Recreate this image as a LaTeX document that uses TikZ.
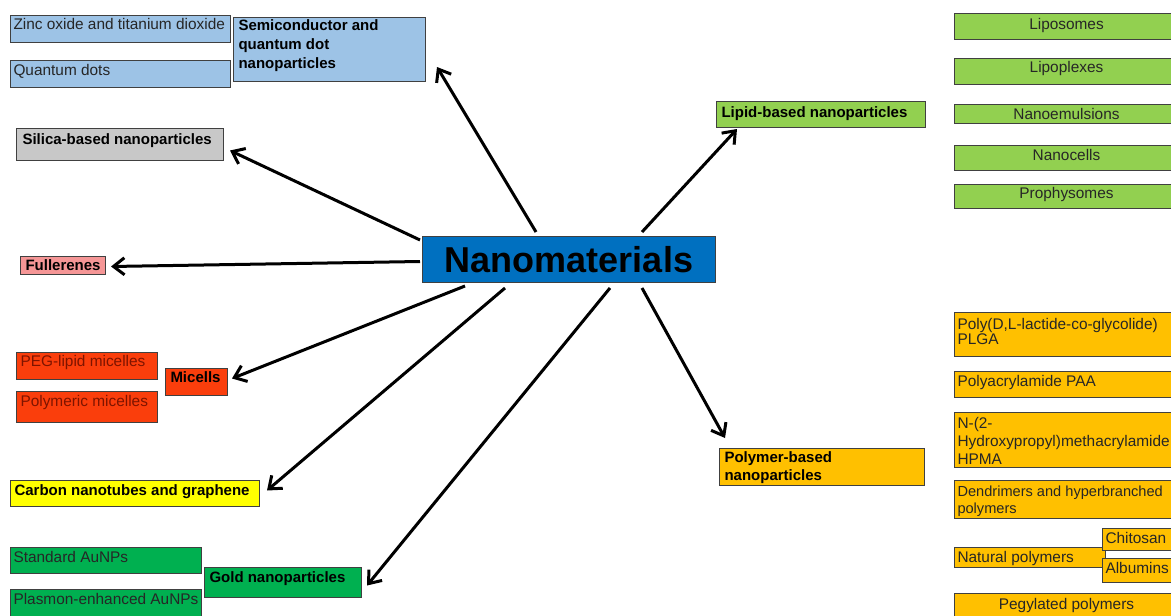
\documentclass[tikz,border=0pt]{standalone}
\usepackage{fontspec}
\setmainfont{Liberation Sans}
\usetikzlibrary{arrows.meta}
\definecolor{cblue}{RGB}{157,195,230}
\definecolor{cgray}{RGB}{200,200,200}
\definecolor{cpink}{RGB}{245,150,150}
\definecolor{cred}{RGB}{250,62,12}
\definecolor{cyellow}{RGB}{255,255,0}
\definecolor{cgreen}{RGB}{0,176,80}
\definecolor{cnano}{RGB}{0,112,192}
\definecolor{clgreen}{RGB}{146,208,80}
\definecolor{corange}{RGB}{255,192,0}
\definecolor{cborder}{RGB}{64,64,64}
\definecolor{cdarkred}{RGB}{125,20,0}
\newcommand\padl{3pt}
\newcommand\fsz{15.4}
\newcommand\cellbox[9]{\node[bx,#1] (#2) at (#3,#4) {\parbox[c][#6pt][t]{#5pt}{\fontsize{\fsz}{#8}\selectfont\raggedright\leftskip=\padl\relax\vspace*{#7pt}\rule{0pt}{11pt}#9}};}
\tikzset{
  bx/.style={draw=cborder, line width=1pt, anchor=north west, inner sep=0pt, text=black!85},
  lpad/.code={\def\padl{#1}},
  fsize/.code={\def\fsz{#1}},
  title/.style={font=\bfseries, text=black, fsize=15},
  blueb/.style={fill=cblue},
  grayb/.style={fill=cgray},
  pinkb/.style={fill=cpink},
  redb/.style={fill=cred, text=cdarkred},
  yellowb/.style={fill=cyellow},
  greenb/.style={fill=cgreen},
  lgreenb/.style={fill=clgreen},
  orangeb/.style={fill=corange},
  arr/.style={line width=3pt, -{Straight Barb[length=11pt,width=17pt]}},
}
\begin{document}
\begin{tikzpicture}[x=1pt,y=-1pt]
\fill[white] (0,0) rectangle (1171,616);
\clip (0,0) rectangle (1171,616);
% semiconductor group
\cellbox{blueb}{zinc}{10}{15}{220}{27}{2.4}{17}{\mbox{Zinc oxide and titanium dioxide}}
\cellbox{blueb}{qdots}{10}{60}{220}{27}{3.4}{17}{Quantum dots}
\cellbox{blueb,title,lpad=5pt}{semi}{233}{17}{192}{64}{2.1}{18.7}{Semiconductor and\\quantum dot\\nanoparticles}
% silica, fullerenes
\cellbox{grayb,title,lpad=6pt}{silica}{16}{128}{207}{32}{5.4}{17}{Silica-based nanoparticles}
\cellbox{pinkb,title,lpad=5pt}{fuller}{20}{256}{85}{18}{3.4}{17}{\mbox{Fullerenes}}
% micelles
\cellbox{redb,lpad=4pt}{pegmic}{16}{352}{141}{27}{3.1}{17}{\mbox{PEG-lipid micelles}}
\cellbox{redb,lpad=4pt}{polymic}{16}{391}{141}{31}{3.4}{17}{\mbox{Polymeric micelles}}
\cellbox{redb,title,lpad=5pt}{micells}{165}{368}{62}{27}{3.1}{17}{\mbox{Micells}}
% carbon
\cellbox{yellowb,title,lpad=4pt}{carbon}{10}{480}{249}{26}{4.4}{17}{\mbox{Carbon nanotubes and graphene}}
% gold
\cellbox{greenb}{stdau}{10}{547}{191}{26}{4}{17}{Standard AuNPs}
\cellbox{greenb}{plasau}{10}{589}{191}{28}{3.4}{17}{\mbox{Plasmon-enhanced AuNPs}}
\cellbox{greenb,title,lpad=5pt}{gold}{204}{567}{157}{30}{4.1}{17}{\mbox{Gold nanoparticles}}
% centre
\node[bx, fill=cnano, text=black, minimum width=293pt, minimum height=46pt, font=\bfseries\fontsize{36}{40}\selectfont] (nano) at (422,236) {Nanomaterials};
% lipid group
\cellbox{lgreenb,title,lpad=5pt}{lipid}{716}{101}{209}{26}{5.1}{17}{\mbox{Lipid-based nanoparticles}}
\cellbox{lgreenb}{liposomes}{954}{13}{224}{26}{4.7}{17}{\centering Liposomes}
\cellbox{lgreenb}{lipoplexes}{954}{58}{224}{26}{3.1}{17}{\centering Lipoplexes}
\cellbox{lgreenb}{nanoem}{954}{104}{224}{19}{3.7}{17}{\centering Nanoemulsions}
\cellbox{lgreenb}{nanocells}{954}{145}{224}{25}{3.4}{17}{\centering Nanocells}
\cellbox{lgreenb}{prophy}{954}{184}{224}{24}{3.1}{17}{\centering Prophysomes}
% polymer group
\cellbox{orangeb,title,lpad=5pt}{polymer}{719}{448}{205}{37}{2.8}{17.7}{Polymer-based\\nanoparticles}
\cellbox{orangeb}{plga}{954}{312}{224}{44}{5.4}{15}{\mbox{Poly(D,L-lactide-co-glycolide)}\\PLGA}
\cellbox{orangeb}{paa}{954}{371}{224}{26}{3.7}{17}{Polyacrylamide PAA}
\cellbox{orangeb}{hpma}{954}{412}{224}{55}{4.4}{18}{N-(2-\\\mbox{Hydroxypropyl)methacrylamide}\\HPMA}
\cellbox{orangeb,fsize=14.6}{dend}{954}{480}{224}{38}{5.4}{16.7}{\mbox{Dendrimers and hyperbranched}\\polymers}
\cellbox{orangeb}{natural}{954}{547}{151}{20}{3.8}{17}{\mbox{Natural polymers}}
\cellbox{orangeb}{chitosan}{1102}{528}{76}{22}{3.4}{17}{\mbox{Chitosan}}
\cellbox{orangeb}{albumins}{1102}{558}{76}{24}{3.4}{17}{\mbox{Albumins}}
\cellbox{orangeb}{pegyl}{954}{593}{224}{30}{4.4}{17}{\centering Pegylated polymers}
% arrows
\draw[arr] ([shift={(114,-4)}]nano.north west) -- ([shift={(11,-15)}]semi.south east);
\draw[arr] ([shift={(-2,4)}]nano.north west) -- ([shift={(6,6)}]silica.east);
\draw[arr] ([shift={(-2,2)}]nano.west) -- ([shift={(5,1)}]fuller.east);
\draw[arr] ([shift={(43,3)}]nano.south west) -- ([shift={(4,-3.5)}]micells.east);
\draw[arr] ([shift={(83,5)}]nano.south west) -- ([shift={(7,-3)}]carbon.east);
\draw[arr] ([shift={(188,5)}]nano.south west) -- ([shift={(5,3)}]gold.east);
\draw[arr] ([shift={(220,-4)}]nano.north west) -- ([shift={(21,1)}]lipid.south west);
\draw[arr] ([shift={(220,5)}]nano.south west) -- ([shift={(6,-10)}]polymer.north west);
\end{tikzpicture}
\end{document}
